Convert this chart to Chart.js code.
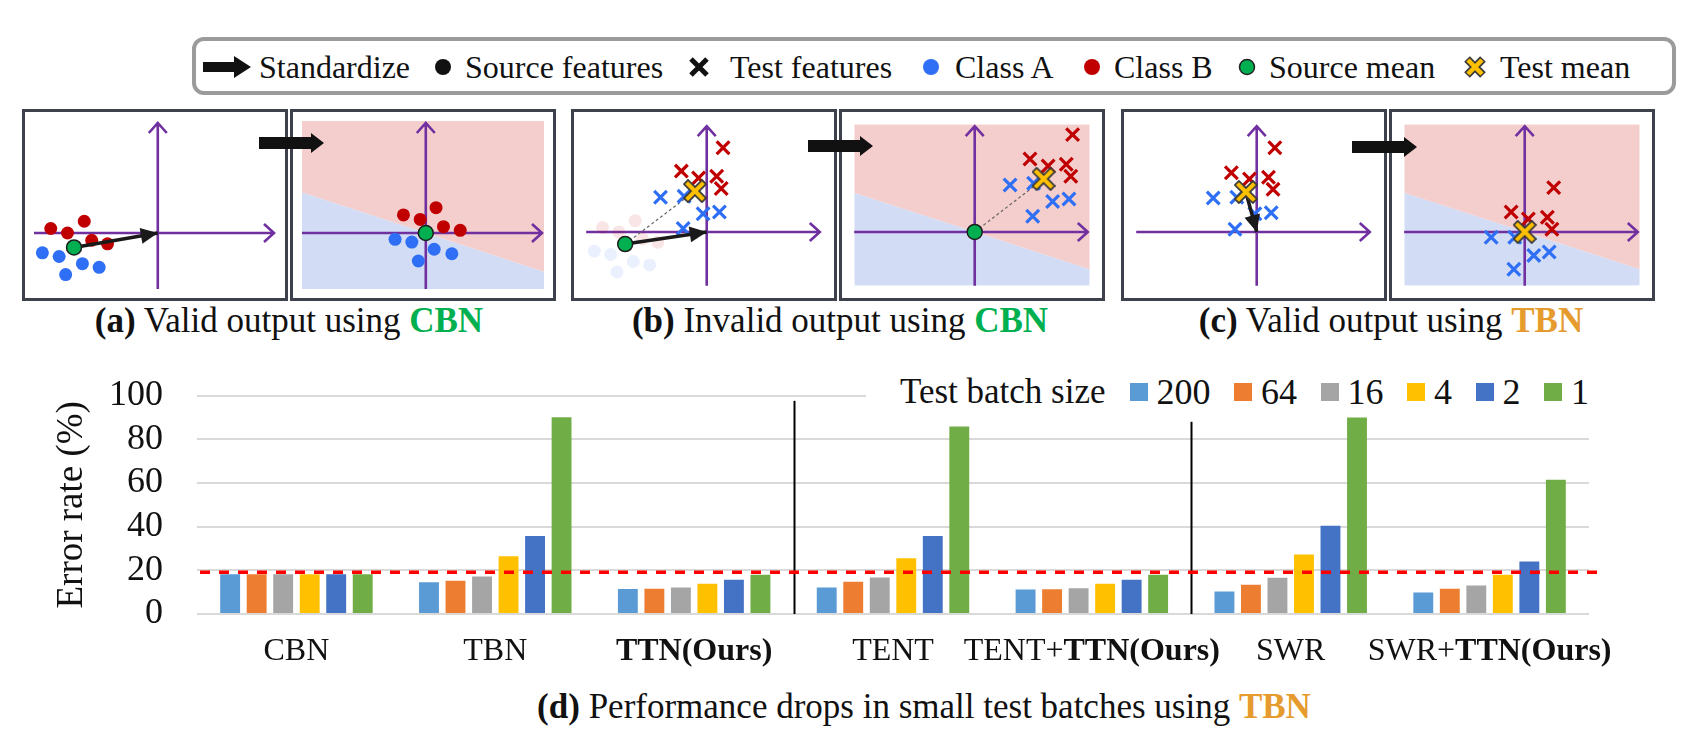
<!DOCTYPE html>
<html>
<head>
<meta charset="utf-8">
<script src="https://cdn.jsdelivr.net/npm/chart.js@4.4.1/dist/chart.umd.min.js"></script>
<style>
  body { margin: 0; background: #fff; font-family: "Liberation Serif", "Times New Roman", serif; }
  #page { position: relative; width: 1685px; height: 732px; overflow: hidden; background: #fff; }
  .lg { position: absolute; top: 47px; height: 40px; line-height: 40px; font-size: 32px; white-space: nowrap; color: #111; }
  .icon { position: absolute; }
  .panel { position: absolute; top: 109px; width: 266px; height: 192px; border: 3px solid #3d414b; box-sizing: border-box; background: #fff; }
  .panel canvas { display: block; }
  .cap { position: absolute; top: 300px; height: 42px; line-height: 42px; font-size: 35px; white-space: nowrap; transform: translateX(-50%); color: #111; }
  .green { color: #00B050; font-weight: bold; }
  .orange { color: #E69B2E; font-weight: bold; }
  #barLegend { position: absolute; left: 866px; top: 371px; width: 780px; height: 42px; background: #fff; white-space: nowrap;
               display: flex; align-items: center; padding-left: 34px; box-sizing: border-box; font-size: 36px; color: #111; }
  #barLegend .box { width: 18px; height: 18px; margin-right: 9px; flex: none; }
  #barLegend .txt { margin-right: 23.5px; line-height: 42px; flex: none; }
</style>
</head>
<body>
<div id="page">

  <!-- legend box on top -->
  <div style="position:absolute;left:192px;top:37px;width:1484px;height:58px;border:4px solid #9b9b9b;border-radius:12px;box-sizing:border-box;"></div>
  <svg class="icon" style="left:203px;top:56px" width="48" height="22"><polygon points="0,6 31,6 31,0 48,11 31,22 31,16 0,16" fill="#111"/></svg>
  <span class="lg" style="left:259px">Standardize</span>
  <svg class="icon" style="left:434px;top:58px" width="18" height="18"><circle cx="9" cy="9" r="8" fill="#111"/></svg>
  <span class="lg" style="left:465px">Source features</span>
  <svg class="icon" style="left:687px;top:55px" width="24" height="24"><path d="M4,4 L20,20 M20,4 L4,20" stroke="#111" stroke-width="5"/></svg>
  <span class="lg" style="left:730px">Test features</span>
  <svg class="icon" style="left:922px;top:58px" width="18" height="18"><circle cx="9" cy="9" r="8" fill="#2F6FF5"/></svg>
  <span class="lg" style="left:955px">Class A</span>
  <svg class="icon" style="left:1083px;top:58px" width="18" height="18"><circle cx="9" cy="9" r="8" fill="#C00000"/></svg>
  <span class="lg" style="left:1114px">Class B</span>
  <svg class="icon" style="left:1238px;top:58px" width="18" height="18"><circle cx="9" cy="9" r="7.5" fill="#00B050" stroke="#222" stroke-width="1.5"/></svg>
  <span class="lg" style="left:1269px">Source mean</span>
  <svg class="icon" style="left:1463px;top:55px" width="24" height="24"><path d="M4,4 L20,20 M20,4 L4,20" stroke="#3a3a3a" stroke-width="8"/><path d="M5,5 L19,19 M19,5 L5,19" stroke="#FFC000" stroke-width="4.5"/></svg>
  <span class="lg" style="left:1500px">Test mean</span>

  <!-- feature space panels -->
  <div class="panel" style="left:22px"><canvas id="aLeft" width="260" height="186"></canvas></div>
  <div class="panel" style="left:290px"><canvas id="aRight" width="260" height="186"></canvas></div>
  <div class="panel" style="left:571px"><canvas id="bLeft" width="260" height="186"></canvas></div>
  <div class="panel" style="left:839px"><canvas id="bRight" width="260" height="186"></canvas></div>
  <div class="panel" style="left:1121px"><canvas id="cLeft" width="260" height="186"></canvas></div>
  <div class="panel" style="left:1389px"><canvas id="cRight" width="260" height="186"></canvas></div>

  <svg class="icon" style="left:259px;top:133px" width="65" height="20"><polygon points="0,4 52,4 52,0 65,10 52,20 52,16 0,16" fill="#111"/></svg>
  <svg class="icon" style="left:808px;top:136px" width="65" height="20"><polygon points="0,4 52,4 52,0 65,10 52,20 52,16 0,16" fill="#111"/></svg>
  <svg class="icon" style="left:1352px;top:137px" width="65" height="20"><polygon points="0,4 52,4 52,0 65,10 52,20 52,16 0,16" fill="#111"/></svg>

  <div class="cap" style="left:289px"><b>(a)</b> Valid output using <span class="green">CBN</span></div>
  <div class="cap" style="left:840px"><b>(b)</b> Invalid output using <span class="green">CBN</span></div>
  <div class="cap" style="left:1391px"><b>(c)</b> Valid output using <span class="orange">TBN</span></div>

  <!-- bar chart -->
  <canvas id="bars" width="1685" height="340" style="position:absolute;left:0;top:340px"></canvas>
  <div id="barLegend"></div>

  <div class="cap" style="left:924px;top:686px"><b>(d)</b> Performance drops in small test batches using <span class="orange">TBN</span></div>
</div>

<script>
// ---- bar chart data (d) ----
const categories = ['CBN', 'TBN', 'TTN(Ours)', 'TENT', 'TENT+TTN(Ours)', 'SWR', 'SWR+TTN(Ours)'];
const batchSizes = ['200', '64', '16', '4', '2', '1'];
const batchColors = ['#5B9BD5', '#ED7D31', '#A5A5A5', '#FFC000', '#4472C4', '#70AD47'];
const errBatch200 = [18.2, 14.5, 11.5, 12.1, 11.2, 10.3, 9.9];
const errBatch64 = [18.2, 15.2, 11.6, 14.8, 11.3, 13.4, 11.6];
const errBatch16 = [18.2, 17.2, 12.1, 16.7, 11.8, 16.6, 13.1];
const errBatch4 = [18.2, 26.4, 13.9, 25.5, 13.9, 27.3, 18.0];
const errBatch2 = [18.2, 35.7, 15.7, 35.7, 15.7, 40.4, 24.0];
const errBatch1 = [18.2, 90.1, 18.0, 85.8, 18.0, 90.0, 61.5];
const yTicks = [0, 20, 40, 60, 80, 100];
const yTitle = 'Error rate (%)';
const cbnLevel = 19.1;            // red dashed reference line
const separatorAfter = [2, 4];    // vertical lines after these categories
const separatorTop = [97.6, 88];  // top of each vertical line, in %

// ---- feature space panels (a)-(c), origin = purple axes ----
const panelX = [-13.3, 12.7];
const panelY = [-6.2, 12.4];
const axisOrigin = [0, 0];
const boundary = [[-13.3, 4.5], [12.7, -4.3]];

const aLeftClassA = [[-12.4, -2.2], [-10.6, -2.6], [-8.1, -3.4], [-6.3, -3.8], [-9.9, -4.6]];
const aLeftClassB = [[-11.5, 0.5], [-9.7, 0.0], [-7.9, 1.3], [-7.1, -0.8], [-5.4, -1.2]];
const aLeftMean = [-9.0, -1.6];
const aRightClassA = [[-3.3, -0.7], [-1.5, -1.0], [0.9, -1.8], [2.8, -2.3], [-0.8, -3.1]];
const aRightClassB = [[-2.4, 2.0], [-0.6, 1.5], [1.1, 2.8], [1.9, 0.7], [3.7, 0.3]];
const aRightMean = [0.0, 0.0];

const bLeftSrcMean = [-9.0, -1.4];
const bLeftTestA = [[-5.1, 4.0], [-2.5, 4.1], [-0.4, 2.1], [1.4, 2.3], [-2.6, 0.4]];
const bLeftTestB = [[1.8, 9.7], [-2.8, 7.0], [-0.9, 6.2], [1.1, 6.4], [1.6, 5.0]];
const bLeftTestMean = [-1.3, 4.7];
const bRightSrcMean = [0.0, 0.0];
const bRightTestA = [[3.9, 5.4], [6.5, 5.6], [8.6, 3.5], [10.4, 3.8], [6.4, 1.8]];
const bRightTestB = [[10.8, 11.2], [6.1, 8.4], [8.1, 7.6], [10.1, 7.8], [10.6, 6.4]];
const bRightTestMean = [7.6, 6.1];

const cLeftTestA = [[-4.8, 3.9], [-2.2, 4.0], [-0.2, 2.1], [1.6, 2.2], [-2.4, 0.3]];
const cLeftTestB = [[2.0, 9.7], [-2.8, 6.8], [-0.8, 6.1], [1.3, 6.3], [1.8, 4.9]];
const cLeftTestMean = [-1.2, 4.6];
const cRightTestA = [[-3.7, -0.6], [-1.1, -0.6], [1.0, -2.7], [2.7, -2.3], [-1.2, -4.3]];
const cRightTestB = [[3.2, 5.1], [-1.5, 2.3], [0.4, 1.5], [2.5, 1.7], [3.0, 0.3]];
const cRightTestMean = [0.0, 0.0];

const fontFamily = '"Liberation Serif", "Times New Roman", serif';
const classAColor = '#2F6FF5';
const classBColor = '#C00000';

function pts(list) { return list.map(p => ({ x: p[0], y: p[1] })); }

// yellow outlined cross for the test mean
const testMeanIcon = document.createElement('canvas');
testMeanIcon.width = 24; testMeanIcon.height = 24;
(function () {
  const c = testMeanIcon.getContext('2d');
  c.lineCap = 'square';
  c.strokeStyle = '#3a3a3a'; c.lineWidth = 7.5;
  c.beginPath(); c.moveTo(5, 5); c.lineTo(19, 19); c.moveTo(19, 5); c.lineTo(5, 19); c.stroke();
  c.strokeStyle = '#FFC000'; c.lineWidth = 4;
  c.beginPath(); c.moveTo(5, 5); c.lineTo(19, 19); c.moveTo(19, 5); c.lineTo(5, 19); c.stroke();
})();

function dots(list, color, faded) {
  return { data: pts(list), pointStyle: 'circle', pointRadius: 6.5, backgroundColor: color,
           borderWidth: 0, order: faded ? 6 : 2 };
}
function crosses(list, color) {
  return { data: pts(list), pointStyle: 'crossRot', pointRadius: 9, borderColor: color,
           borderWidth: 3.2, order: 2 };
}
function sourceMean(p) {
  return { data: pts([p]), pointStyle: 'circle', pointRadius: 7.5, backgroundColor: '#00B050',
           borderColor: '#1d1d1d', borderWidth: 1.5, order: 0 };
}
function testMean(p) {
  return { data: pts([p]), pointStyle: testMeanIcon, pointRadius: 10, order: 0 };
}
function arrow(from, to) {
  return { type: 'line', data: pts([from, to]), borderColor: '#1a1a1a', borderWidth: 3.5,
           pointRadius: 0, arrowHead: true, order: 1 };
}
function dashedLink(from, to) {
  return { type: 'line', data: pts([from, to]), borderColor: '#666', borderWidth: 1.2,
           borderDash: [3, 2.5], pointRadius: 0, order: 3 };
}
function background() {
  return [
    { type: 'line', data: pts(boundary), borderWidth: 0, pointRadius: 0, fill: 'end',
      backgroundColor: '#F4CDCD', order: 9 },
    { type: 'line', data: pts(boundary), borderWidth: 0, pointRadius: 0, fill: 'start',
      backgroundColor: '#D2DCF4', order: 9 }
  ];
}

const panelDecor = {
  id: 'panelDecor',
  beforeDatasetsDraw(chart) {
    const { ctx, chartArea: a, scales: { x, y } } = chart;
    const x0 = x.getPixelForValue(0), y0 = y.getPixelForValue(0);
    ctx.save();
    ctx.strokeStyle = '#7030A0';
    ctx.lineWidth = 2.6;
    ctx.beginPath();
    ctx.moveTo(a.left, y0); ctx.lineTo(a.right - 2, y0);
    ctx.moveTo(a.right - 12, y0 - 9); ctx.lineTo(a.right - 2, y0); ctx.lineTo(a.right - 12, y0 + 9);
    ctx.moveTo(x0, a.bottom); ctx.lineTo(x0, a.top + 2);
    ctx.moveTo(x0 - 9, a.top + 12); ctx.lineTo(x0, a.top + 2); ctx.lineTo(x0 + 9, a.top + 12);
    ctx.stroke();
    ctx.restore();
  },
  afterDatasetDraw(chart, args) {
    const ds = chart.data.datasets[args.index];
    if (!ds.arrowHead) return;
    const els = args.meta.data;
    const p = els[els.length - 2], q = els[els.length - 1];
    const ang = Math.atan2(q.y - p.y, q.x - p.x);
    const ctx = chart.ctx;
    ctx.save();
    ctx.translate(q.x, q.y);
    ctx.rotate(ang);
    ctx.fillStyle = '#1a1a1a';
    ctx.beginPath();
    ctx.moveTo(0, 0); ctx.lineTo(-17, -8); ctx.lineTo(-17, 8); ctx.closePath();
    ctx.fill();
    ctx.restore();
  }
};

function makePanel(id, datasets) {
  new Chart(document.getElementById(id), {
    type: 'scatter',
    data: { datasets },
    options: {
      responsive: false,
      animation: false,
      layout: { padding: 0 },
      elements: { line: { tension: 0 } },
      scales: {
        x: { type: 'linear', min: panelX[0], max: panelX[1], display: false },
        y: { type: 'linear', min: panelY[0], max: panelY[1], display: false }
      },
      plugins: { legend: { display: false }, tooltip: { enabled: false },
                 filler: { drawTime: 'beforeDatasetsDraw' } }
    },
    plugins: [panelDecor]
  });
}

makePanel('aLeft', [
  sourceMean(aLeftMean), arrow(aLeftMean, axisOrigin),
  dots(aLeftClassB, classBColor), dots(aLeftClassA, classAColor)
]);
makePanel('aRight', [
  sourceMean(aRightMean),
  dots(aRightClassB, classBColor), dots(aRightClassA, classAColor),
  ...background()
]);
makePanel('bLeft', [
  testMean(bLeftTestMean), sourceMean(bLeftSrcMean), arrow(bLeftSrcMean, axisOrigin),
  crosses(bLeftTestB, classBColor), crosses(bLeftTestA, classAColor),
  dashedLink(bLeftSrcMean, bLeftTestMean),
  dots(aLeftClassB, 'rgba(192,0,0,0.1)', true), dots(aLeftClassA, 'rgba(47,111,245,0.1)', true)
]);
makePanel('bRight', [
  testMean(bRightTestMean), sourceMean(bRightSrcMean),
  crosses(bRightTestB, classBColor), crosses(bRightTestA, classAColor),
  dashedLink(bRightSrcMean, bRightTestMean),
  ...background()
]);
makePanel('cLeft', [
  testMean(cLeftTestMean), arrow(cLeftTestMean, axisOrigin),
  crosses(cLeftTestB, classBColor), crosses(cLeftTestA, classAColor)
]);
makePanel('cRight', [
  testMean(cRightTestMean),
  crosses(cRightTestB, classBColor), crosses(cRightTestA, classAColor),
  ...background()
]);

// ---- bar chart ----
const seriesList = [errBatch200, errBatch64, errBatch16, errBatch4, errBatch2, errBatch1];

const barDecor = {
  id: 'barDecor',
  afterDatasetsDraw(chart) {
    const { ctx, chartArea: a, scales: { x, y } } = chart;
    ctx.save();
    // group separators
    ctx.strokeStyle = '#000';
    ctx.lineWidth = 2;
    separatorAfter.forEach((idx, i) => {
      const sx = Math.round((x.getPixelForValue(idx) + x.getPixelForValue(idx + 1)) / 2) + 0.5;
      ctx.beginPath();
      ctx.moveTo(sx, y.getPixelForValue(separatorTop[i]));
      ctx.lineTo(sx, y.getPixelForValue(0));
      ctx.stroke();
    });
    // CBN reference level
    const ly = y.getPixelForValue(cbnLevel);
    ctx.strokeStyle = '#FF0000';
    ctx.lineWidth = 3.4;
    ctx.setLineDash([10, 9]);
    ctx.beginPath();
    ctx.moveTo(a.left + 3, ly);
    ctx.lineTo(a.right + 10, ly);
    ctx.stroke();
    ctx.setLineDash([]);
    // category labels, "TTN(Ours)" in bold
    ctx.fillStyle = '#111';
    ctx.textBaseline = 'middle';
    ctx.textAlign = 'left';
    categories.forEach((label, i) => {
      const parts = label.split(/(TTN\(Ours\))/).filter(Boolean);
      const fonts = parts.map(p => (p === 'TTN(Ours)' ? 'bold ' : '') + '32px ' + fontFamily);
      let total = 0;
      parts.forEach((p, k) => { ctx.font = fonts[k]; total += ctx.measureText(p).width; });
      let cx = x.getPixelForValue(i) - total / 2;
      parts.forEach((p, k) => {
        ctx.font = fonts[k];
        ctx.fillText(p, cx, a.bottom + 38);
        cx += ctx.measureText(p).width;
      });
    });
    // y axis title
    ctx.translate(72, (a.top + a.bottom) / 2);
    ctx.rotate(-Math.PI / 2);
    ctx.textAlign = 'center';
    ctx.font = '37px ' + fontFamily;
    ctx.fillText(yTitle, 0, 0);
    ctx.restore();
  }
};

new Chart(document.getElementById('bars'), {
  type: 'bar',
  data: {
    labels: categories,
    datasets: batchSizes.map((b, i) => ({
      label: b,
      data: seriesList[i],
      backgroundColor: batchColors[i],
      categoryPercentage: 0.8,
      barPercentage: 0.75
    }))
  },
  options: {
    responsive: false,
    animation: false,
    layout: { padding: { top: 51, right: 96, bottom: 66, left: 0 } },
    plugins: { legend: { display: false }, tooltip: { enabled: false } },
    scales: {
      x: { display: false },
      y: {
        min: 0, max: 100,
        afterFit(scale) { scale.width = 197; },
        afterBuildTicks(scale) { scale.ticks = yTicks.map(v => ({ value: v })); },
        grid: { color: '#D9D9D9', lineWidth: 2, drawTicks: false },
        border: { display: false },
        ticks: { padding: 34, autoSkip: false, color: '#111', font: { family: fontFamily, size: 36 } }
      }
    }
  },
  plugins: [barDecor]
});

// legend of the bar chart, built from the series
const lg = document.getElementById('barLegend');
const title = document.createElement('span');
title.className = 'txt';
title.style.fontSize = '35px';
title.style.marginRight = '24px';
title.textContent = 'Test batch size';
lg.appendChild(title);
batchSizes.forEach((b, i) => {
  const box = document.createElement('span');
  box.className = 'box';
  box.style.background = batchColors[i];
  const t = document.createElement('span');
  t.className = 'txt';
  t.textContent = b;
  lg.appendChild(box);
  lg.appendChild(t);
});
</script>
</body>
</html>
